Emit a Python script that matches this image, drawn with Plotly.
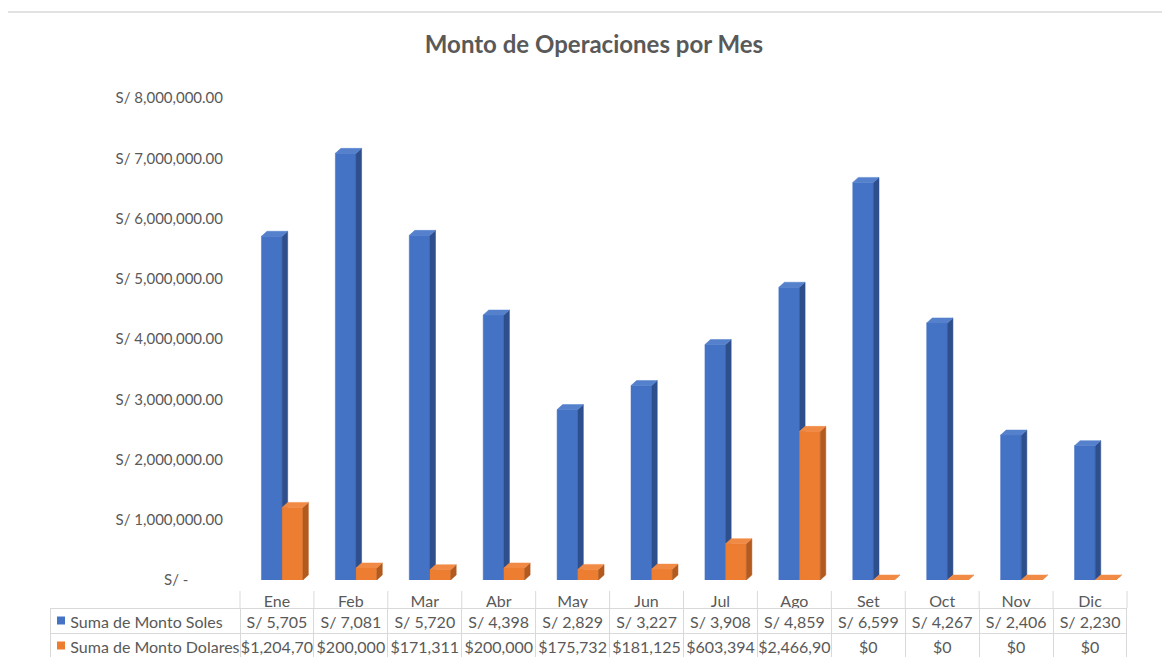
import plotly.graph_objects as go

# ---------------- data ----------------
months = ["Ene", "Feb", "Mar", "Abr", "May", "Jun", "Jul", "Ago", "Set", "Oct", "Nov", "Dic"]
soles = [5705000, 7081000, 5720000, 4398000, 2829000, 3227000,
         3908000, 4859000, 6599000, 4267000, 2406000, 2230000]
dolares = [1204700, 200000, 171311, 200000, 175732, 181125,
           603394, 2466900, 0, 0, 0, 0]
soles_text = ["S/ 5,705", "S/ 7,081", "S/ 5,720", "S/ 4,398", "S/ 2,829", "S/ 3,227",
              "S/ 3,908", "S/ 4,859", "S/ 6,599", "S/ 4,267", "S/ 2,406", "S/ 2,230"]
dolares_text = ["$1,204,70", "$200,000", "$171,311", "$200,000", "$175,732", "$181,125",
                "$603,394", "$2,466,90", "$0", "$0", "$0", "$0"]
series_names = ["Suma de Monto Soles", "Suma de Monto Dolares"]
y_tickvals = [0, 1e6, 2e6, 3e6, 4e6, 5e6, 6e6, 7e6, 8e6]
y_ticktext = ["S/ -" + "\u00a0" * 9, "S/ 1,000,000.00", "S/ 2,000,000.00", "S/ 3,000,000.00",
              "S/ 4,000,000.00", "S/ 5,000,000.00", "S/ 6,000,000.00",
              "S/ 7,000,000.00", "S/ 8,000,000.00"]

# ---------------- styling ----------------
FONT = "Lato"
GREY = "#595959"
BLUE = ("#4472C4", "#2E4F8C", "#5580CC")      # front, side, top
ORANGE = ("#ED7D31", "#B35A1F", "#F08A45")
OFF = 8                      # page body margin in the browser
W, H = 1170 - 2 * OFF, 668 - 2 * OFF
# layout in reference-page pixels
PLOT_L, PLOT_R, PLOT_T, PLOT_B = 50, 1127, 98, 657
ML, MR, MT, MB = PLOT_L - OFF, W - (PLOT_R - OFF), PLOT_T - OFF, H - (PLOT_B - OFF)
PW, PH = PLOT_R - PLOT_L, PLOT_B - PLOT_T
px_y = lambda y: (PLOT_B - y) / PH          # reference pixel row -> paper y
px_x = lambda x: (x - PLOT_L) / PW          # reference pixel col -> paper x
x_dom0 = px_x(240)
y_dom0 = px_y(580)
BAR_W = 0.28
DX = 0.075          # depth in category units
DY = 83000          # depth in value units


def prism(vals, off):
    fx, fy, sx, sy, tx, ty = [], [], [], [], [], []
    for i, v in enumerate(vals):
        x0, x1 = i + off, i + off + BAR_W
        fx += [x0, x1, x1, x0, x0, None]
        fy += [0, 0, v, v, 0, None]
        sx += [x1, x1 + DX, x1 + DX, x1, x1, None]
        sy += [0, DY, v + DY, v, 0, None]
        tx += [x0, x1, x1 + DX, x0 + DX, x0, None]
        ty += [v, v, v + DY, v + DY, v, None]
    return (fx, fy), (sx, sy), (tx, ty)


fig = go.Figure()
for vals, off, cols, name in [(soles, -0.21, BLUE, series_names[0]),
                              (dolares, 0.07, ORANGE, series_names[1])]:
    faces = prism(vals, off)
    for (xs, ys), c in zip(faces, cols):
        fig.add_trace(go.Scatter(x=xs, y=ys, mode="lines", fill="toself",
                                 fillcolor=c, line=dict(color=c, width=0.5),
                                 name=name, showlegend=False, hoverinfo="skip"))

# data table below the chart (first row used as header so no empty header shows)
nb = lambda s: s.replace(" ", "\u00a0")     # keep each cell on one line
pad = "\u00a0" * 3
row1 = [nb(pad + series_names[0])] + [nb(s) for s in soles_text]
row2 = [[nb(pad + series_names[1])]] + [[nb(s)] for s in dolares_text]
tfont = dict(family=FONT, size=16, color=GREY)
tline = dict(color="#D9D9D9", width=1)
talign = ["left"] + ["center"] * 12
fig.add_trace(go.Table(
    domain=dict(x=[0, 1], y=[0, px_y(608)]),
    columnwidth=[240 - PLOT_L] + [(PLOT_R - 240) / 12] * 12,
    header=dict(values=row1, height=25, align=talign, font=tfont, line=tline,
                fill=dict(color="white")),
    cells=dict(values=row2, height=25, align=talign, font=tfont, line=tline,
               fill=dict(color="white")),
))

shapes = []
# legend keys inside the table
for yc, c in [(620.5, BLUE[0]), (645.5, ORANGE[0])]:
    shapes.append(dict(type="rect", xref="paper", yref="paper", layer="above",
                       x0=px_x(57), x1=px_x(65), y0=px_y(yc + 4), y1=px_y(yc - 4),
                       fillcolor=c, line=dict(width=0)))
# separators of the category row
for k in range(13):
    xp = x_dom0 + k / 12 * (1 - x_dom0)
    shapes.append(dict(type="line", xref="paper", yref="paper",
                       x0=xp, x1=xp, y0=px_y(608), y1=px_y(591),
                       line=dict(color="#D9D9D9", width=1)))
# outer chart border
shapes.append(dict(type="rect", xref="paper", yref="paper",
                   x0=px_x(7), x1=px_x(1200), y0=px_y(700), y1=px_y(12),
                   line=dict(color="#D9D9D9", width=1.5), layer="below"))

fig.update_layout(
    template="none",
    width=W, height=H,
    margin=dict(l=ML, r=MR, t=MT, b=MB, autoexpand=False),
    paper_bgcolor="white", plot_bgcolor="white",
    font=dict(family=FONT, color=GREY, size=15),
    title=dict(text="Monto de Operaciones por Mes", x=(594 - OFF) / W, xref="container",
               y=1 - (45 - OFF) / H, yref="container", xanchor="center", yanchor="middle",
               font=dict(family=FONT, size=24, color=GREY, weight="bold")),
    xaxis=dict(domain=[x_dom0, 1], range=[-0.5, 11.5], tickvals=list(range(12)),
               ticktext=months, showgrid=False, zeroline=False, showline=False,
               ticks="", ticklabelstandoff=10, tickfont=dict(size=16, color=GREY),
               fixedrange=True, automargin=False),
    yaxis=dict(domain=[y_dom0, 1], range=[0, 8e6], tickvals=y_tickvals,
               ticktext=y_ticktext, showgrid=False, zeroline=False, showline=False,
               ticks="", ticklabelstandoff=16, tickfont=dict(size=15, color=GREY),
               fixedrange=True, automargin=False),
    shapes=shapes,
    showlegend=False,
)

fig.write_html("out.html")
